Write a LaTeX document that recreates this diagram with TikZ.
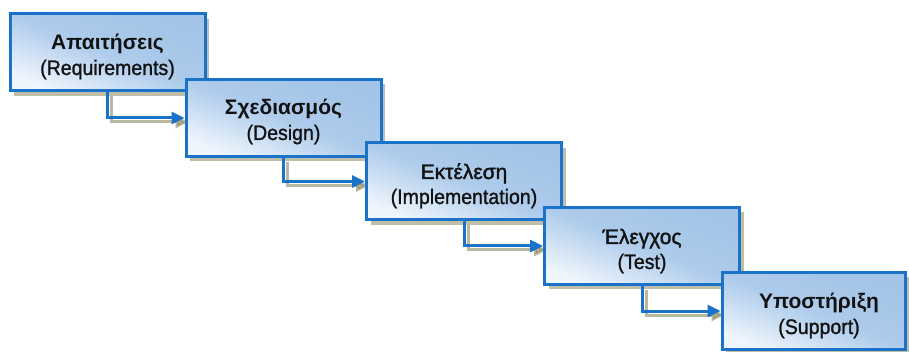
\documentclass[tikz,border=0pt]{standalone}
\usepackage{fontspec}
\setmainfont{Liberation Sans}
\newfontfamily\subfont{Liberation Sans}[FakeStretch=0.93,FakeBold=1.2]
\newfontfamily\midfont{Liberation Sans}[FakeBold=1.6]
\usetikzlibrary{arrows.meta,shadows}

\definecolor{edgeblue}{HTML}{1A73C8}
\definecolor{fillDeep}{HTML}{A3C4E8}
\definecolor{fillMid}{HTML}{ADCBEB}
\definecolor{fillPale}{HTML}{EEF5FC}
\definecolor{shadowolive}{HTML}{8A8A62}
\definecolor{inkdark}{HTML}{121212}

\pgfdeclarelayer{back}
\pgfsetlayers{back,main}

\begin{document}
\begin{tikzpicture}[x=1pt,y=-1pt,
  stagebox/.style={draw=edgeblue, line width=3pt,
    top color=fillDeep, bottom color=fillPale, middle color=fillMid,
    shading angle=-22,
    minimum width=195pt, minimum height=77pt, inner sep=0pt,
    drop shadow={shadow xshift=4pt, shadow yshift=-5pt,
      fill=shadowolive, opacity=0.55}},
  titletext/.style={anchor=base, inner sep=0pt, text=inkdark,
    font=\fontsize{21}{25}\selectfont\midfont},
  boldtitle/.style={titletext, font=\fontsize{21}{25}\selectfont\bfseries},
  subtext/.style={anchor=base, inner sep=0pt, text=inkdark,
    font=\fontsize{21}{25}\selectfont\subfont},
  flow/.style={draw=edgeblue, line width=3pt,
    -{Triangle[length=13pt,width=12pt]}},
  flowshade/.style={draw=shadowolive, opacity=0.6, line width=3pt,
    -{Triangle[length=13pt,width=12pt]}}
]
\useasboundingbox (0,0) rectangle (909,352);

% stages, each one overlapping the one before it
\node[stagebox] (b1) at (107.5,52.5) {};
\node[stagebox] (b2) at (283.5,118) {};
\node[stagebox] (b3) at (464,181.5) {};
\node[stagebox] (b4) at (642,246) {};
\node[stagebox, minimum width=183pt] (b5) at (813.5,311) {};

% labels
\node[boldtitle] (t1) at (107.5,50) {Απαιτήσεις};
\node[subtext] (s1) at (107.5,75) {(Requirements)};
\node[boldtitle] (t2) at (283.5,115) {Σχεδιασμός};
\node[subtext] (s2) at (283.5,140) {(Design)};
\node[titletext] (t3) at (464,179) {Εκτέλεση};
\node[subtext] (s3) at (464,204) {(Implementation)};
\node[titletext] (t4) at (642,244) {Έλεγχος};
\node[subtext] (s4) at (642,269) {(Test)};
\node[boldtitle] (t5) at (819,308) {Υποστήριξη};
\node[subtext] (s5) at (819,334) {(Support)};

% connectors with their shadows behind the boxes
\begin{pgfonlayer}{back}
  \foreach \a/\b in {b1/b2,b2/b3,b3/b4,b4/b5}
    \draw[flowshade] ([shift={(4,4)}]\a.south) |- ([shift={(4,4)}]\b.west);
\end{pgfonlayer}
\foreach \a/\b in {b1/b2,b2/b3,b3/b4,b4/b5}
  \draw[flow] (\a.south) |- (\b.west);
\end{tikzpicture}
\end{document}
